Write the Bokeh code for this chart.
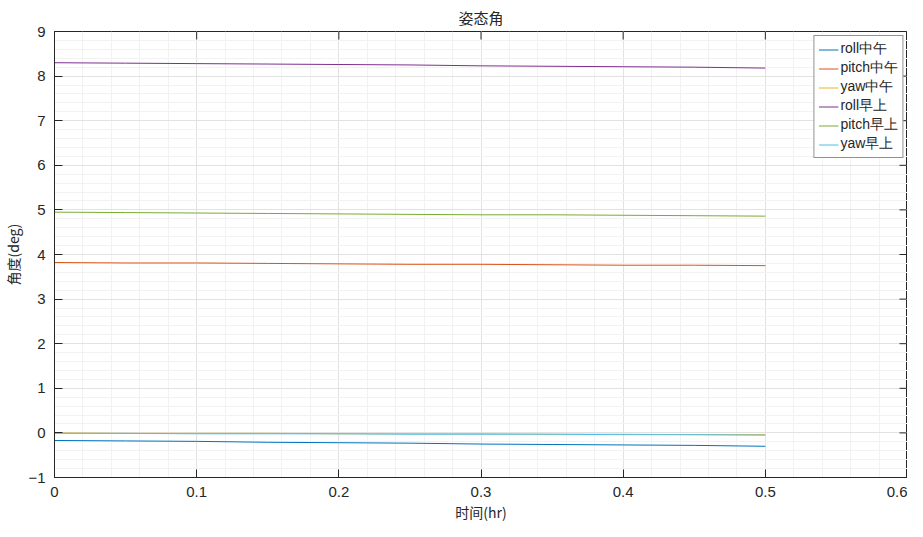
import math
from bokeh.plotting import figure
from bokeh.models import (FixedTicker, Range1d, Legend, LegendItem, Title)
from bokeh.embed import file_html
from bokeh.resources import INLINE

# ---- data ----
t_hr = [0.0, 0.05, 0.10, 0.15, 0.20, 0.25, 0.30, 0.35, 0.40, 0.45, 0.50]
roll_noon = [-0.17, -0.18, -0.19, -0.21, -0.22, -0.23, -0.25, -0.26, -0.27, -0.28, -0.30]
pitch_noon = [3.82, 3.81, 3.81, 3.80, 3.79, 3.78, 3.78, 3.77, 3.76, 3.76, 3.75]
yaw_noon = [0.00, -0.01, -0.01, -0.01, -0.02, -0.02, -0.02, -0.03, -0.03, -0.04, -0.04]
roll_morning = [8.30, 8.29, 8.28, 8.27, 8.26, 8.25, 8.23, 8.22, 8.21, 8.20, 8.18]
pitch_morning = [4.95, 4.94, 4.93, 4.92, 4.91, 4.90, 4.89, 4.89, 4.88, 4.87, 4.86]
yaw_morning = [-0.01, -0.01, -0.02, -0.02, -0.02, -0.03, -0.03, -0.03, -0.04, -0.04, -0.05]

series_names = ["roll中午", "pitch中午", "yaw中午", "roll早上", "pitch早上", "yaw早上"]
series_values = [roll_noon, pitch_noon, yaw_noon, roll_morning, pitch_morning, yaw_morning]
series_colors = ["#0072BD", "#D95319", "#EDB120", "#7E2F8E", "#77AC30", "#4DBEEE"]

x_ticks = [0.0, 0.1, 0.2, 0.3, 0.4, 0.5, 0.6]
y_ticks = [-1, 0, 1, 2, 3, 4, 5, 6, 7, 8, 9]
x_min, x_max = 0.0, 0.6
y_min, y_max = -1, 9

title_text = "姿态角"
x_label = "时间(hr)"
y_label = "角度(deg)"

FONT = "Liberation Sans"
CJK = "Noto Sans CJK SC"
AX = "#262626"

# minor grid positions: 5 sub-divisions per major interval
x_minor = [round(x_min + i * 0.02, 2) for i in range(31)]
y_minor = [round(y_min + i * 0.2, 1) for i in range(51)]

p = figure(width=907, height=521, output_backend="svg", toolbar_location=None,
           x_range=Range1d(x_min, x_max), y_range=Range1d(y_min, y_max),
           min_border_left=0, min_border_right=0, min_border_top=28, min_border_bottom=0)
p.title = None
p.add_layout(Title(text=title_text, align="center", text_font=CJK,
                   text_font_size="15px", text_font_style="normal", text_color=AX,
                   standoff=8), "above")
# x-axis label as a title below the axis (compact)
p.add_layout(Title(text=x_label, align="center", text_font=CJK,
                   text_font_size="14px", text_font_style="normal", text_color=AX,
                   standoff=0), "below")

p.background_fill_color = "white"
p.border_fill_color = "white"
p.outline_line_color = AX
p.outline_line_width = 1

xt = FixedTicker(ticks=x_ticks, minor_ticks=x_minor)
yt = FixedTicker(ticks=y_ticks, minor_ticks=y_minor)

def style_axis(ax):
    ax.axis_line_color = AX
    ax.major_tick_line_color = AX
    ax.major_tick_in = 8
    ax.major_tick_out = 0
    ax.minor_tick_line_color = None
    ax.major_label_text_font = FONT
    ax.major_label_text_font_size = "15px"
    ax.major_label_text_color = AX
    ax.axis_label_text_font = CJK
    ax.axis_label_text_font_size = "14px"
    ax.axis_label_text_font_style = "normal"
    ax.axis_label_text_color = AX

ax = p.xaxis[0]
ax.ticker = xt
style_axis(ax)
ax.major_label_standoff = 5

ay = p.yaxis[0]
ay.ticker = yt
ay.axis_label = y_label
style_axis(ay)
ay.major_label_standoff = 5
ay.axis_label_standoff = 2

p.xgrid.ticker = xt
p.ygrid.ticker = yt
for g in (p.xgrid[0], p.ygrid[0]):
    g.grid_line_color = "#e2e2e2"
    g.grid_line_width = 1
    g.minor_grid_line_color = "#f2f2f2"
    g.minor_grid_line_width = 1

# box ticks on top and right edges (inward, like the reference)
p.ray(x=x_ticks, y=[y_max] * len(x_ticks), length=8, length_units="screen",
      angle=-math.pi / 2, line_color=AX, line_width=1)
p.ray(x=[x_max] * len(y_ticks), y=y_ticks, length=8, length_units="screen",
      angle=math.pi, line_color=AX, line_width=1)

items = []
for name, vals, col in zip(series_names, series_values, series_colors):
    r = p.line(t_hr, vals, line_color=col, line_width=1)
    items.append(LegendItem(label=name, renderers=[r]))

legend = Legend(items=items, location="top_right")
legend.label_text_font = FONT
legend.label_text_font_size = "14px"
legend.label_text_color = AX
legend.label_height = 17
legend.glyph_height = 17
legend.glyph_width = 20
legend.label_standoff = 2
legend.spacing = 1
legend.padding = 4
legend.margin = 4
legend.border_line_color = AX
legend.border_line_width = 1
legend.background_fill_color = "white"
legend.background_fill_alpha = 1
p.add_layout(legend)

open("out.html", "w").write(file_html(p, INLINE))
